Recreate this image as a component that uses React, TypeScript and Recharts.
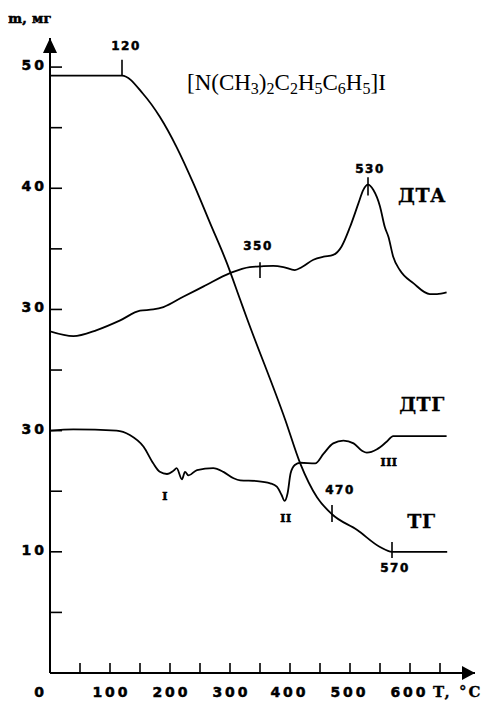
import React from 'react';
import { LineChart, Line, XAxis, YAxis, ReferenceDot, ReferenceLine } from 'recharts';

// ТГ (mass loss) curve
const tgT = [0, 120, 155, 183, 211, 239, 267, 295, 317, 328, 392, 417, 445, 470, 512, 550, 570, 662];
const tgM = [49.3, 49.3, 47.8, 45.9, 43.4, 40.4, 37.1, 33.8, 30.8, 29.3, 20.9, 17.3, 14.5, 13.1, 11.8, 10.4, 10.0, 10.0];

// ДТА curve
const dtaT = [0, 39, 78, 117, 150, 172, 189, 222, 256, 300, 333, 350, 372, 389, 408, 420, 439, 456, 472, 486, 500, 514, 522, 530, 539, 550, 558, 564, 572, 583, 606, 633, 645, 661];
const dtaV = [28.2, 27.8, 28.3, 29.1, 29.9, 30.0, 30.2, 31.05, 31.9, 33.0, 33.5, 33.55, 33.6, 33.5, 33.25, 33.5, 34.1, 34.35, 34.5, 35.2, 36.8, 38.75, 39.85, 40.3, 39.85, 38.5, 36.8, 36.0, 34.35, 33.25, 32.15, 31.27, 31.27, 31.4];

// ДТГ curve
const dtgT = [0, 39, 111, 133, 156, 172, 183, 195, 206, 211, 220, 225, 231, 245, 272, 289, 306, 317, 345, 367, 378, 386, 391, 396, 401, 408, 417, 442, 456, 472, 489, 506, 520, 528, 545, 561, 572, 661];
const dtgV = [20.0, 20.1, 20.0, 19.64, 18.67, 17.3, 16.6, 16.42, 16.7, 16.9, 15.98, 16.6, 16.3, 16.75, 16.9, 16.6, 16.07, 15.9, 15.84, 15.65, 15.37, 14.69, 14.2, 14.83, 16.48, 17.16, 17.35, 17.3, 18.1, 18.95, 19.17, 18.95, 18.34, 18.18, 18.46, 19.08, 19.55, 19.55];

// axis ticks
const xTicks = [0, 50, 100, 150, 200, 250, 300, 350, 400, 450, 500, 550, 600, 650];
const xTickLabels = ['0', '100', '200', '300', '400', '500', '600'];
const yTicks = [5, 10, 15, 20, 25, 30, 35, 40, 45, 50];
const yLabelValues = [10, 20, 30, 40, 50];
const yLabelTexts = ['10', '30', '30', '40', '50'];

// temperature markers
const markT = [120, 350, 530, 470, 570];
const markLo = [49.3, 32.6, 39.4, 12.46, 9.5];
const markHi = [50.6, 33.9, 40.9, 13.86, 10.8];
const markLabelT = [126.7, 346.7, 533.3, 483.3, 575];
const markLabelV = [51.4, 34.9, 41.25, 14.77, 8.33];

// curve names & stages
const curveNames = ['ДТА', 'ДТГ', 'ТГ'];
const curveNameT = [620, 620, 619];
const curveNameV = [38.86, 21.6, 11.96];
const stageNames = ['I', 'II', 'III'];
const stageT = [191.7, 393.3, 565];
const stageV = [14.27, 12.46, 17.08];

const formulaParts: [string, string][] = [['[N(CH', '3'], [')', '2'], ['C', '2'], ['H', '5'], ['C', '6'], ['H', '5'], [']I', '']];

const zip = (xs: number[], ys: number[]) => xs.map((T, i) => ({ T, v: ys[i] }));
const tgData = zip(tgT, tgM);
const dtaData = zip(dtaT, dtaV);
const dtgData = zip(dtgT, dtgV);

const NUM_FONT = '"DejaVu Sans", sans-serif';
const SERIF_FONT = '"DejaVu Serif", serif';

const XTick = (props: any) => {
  const { x, y, payload } = props;
  const v = payload.value;
  const idx = xTickLabels.indexOf(String(v));
  return (
    <g>
      {v > 0 && <line x1={x} x2={x} y1={y - 10} y2={y} stroke="#000" strokeWidth={1.6} />}
      {idx >= 0 && (
        <text x={x + (v === 0 ? -11 : v >= 400 ? -2 : 0) + 1.5} y={y + 24} textAnchor="middle" fontFamily={NUM_FONT} fontWeight="bold" fontSize={14} letterSpacing={3} fill="#000" stroke="#000" strokeWidth={0.5}>
          {xTickLabels[idx]}
        </text>
      )}
      {v === 650 && (
        <text x={x - 7} y={y + 24} textAnchor="start" fontFamily={SERIF_FONT} fontWeight="bold" fontSize={15} letterSpacing={2} fill="#000" stroke="#000" strokeWidth={0.3}>
          T, °C
        </text>
      )}
    </g>
  );
};

const YTick = (props: any) => {
  const { x, y, payload } = props;
  const idx = yLabelValues.indexOf(payload.value);
  return (
    <g>
      <line x1={x} x2={x + 12} y1={y} y2={y} stroke="#000" strokeWidth={1.6} />
      {idx >= 0 && (
        <text x={x - 3} y={y + 3} textAnchor="end" fontFamily={NUM_FONT} fontWeight="bold" fontSize={14} letterSpacing={3} fill="#000" stroke="#000" strokeWidth={0.5}>
          {yLabelTexts[idx]}
        </text>
      )}
    </g>
  );
};

const textShape = (label: string, font: string, size: number, spacing: number, sw: number = 0) => (p: any) => (
  <text x={p.cx} y={p.cy} textAnchor="middle" fontFamily={font} fontWeight="bold" fontSize={size} letterSpacing={spacing} fill="#000" stroke={sw > 0 ? '#000' : 'none'} strokeWidth={sw}>
    {label}
  </text>
);

const formulaShape = (p: any) => (
  <text x={p.cx} y={p.cy} textAnchor="start" fontFamily='"Liberation Serif", serif' fontSize={23} fill="#000">
    {formulaParts.map(([main, sub], i) => (
      <React.Fragment key={i}>
        <tspan dy={i === 0 ? 0 : -4} fontSize={23}>{main}</tspan>
        {sub && <tspan dy={4} fontSize={16}>{sub}</tspan>}
      </React.Fragment>
    ))}
  </text>
);

const yArrow = (p: any) => (
  <polygon points={`${p.cx},${p.cy} ${p.cx - 7},${p.cy + 15} ${p.cx + 7},${p.cy + 15}`} fill="#000" />
);
const xArrow = (p: any) => (
  <polygon points={`${p.cx},${p.cy} ${p.cx - 13},${p.cy - 7} ${p.cx - 13},${p.cy + 7}`} fill="#000" />
);

export default function App() {
  return (
    <div style={{ position: 'absolute', left: 0, top: 0, width: 490, height: 704, background: '#fff' }}>
      <LineChart width={490} height={704} margin={{ top: 38, right: 15, bottom: 0, left: 0 }}>
        <XAxis
          type="number"
          dataKey="T"
          domain={[0, 708.33]}
          allowDataOverflow
          ticks={xTicks}
          interval={0}
          tick={<XTick />}
          tickLine={false}
          tickSize={0}
          tickMargin={0}
          height={31}
          axisLine={{ stroke: '#000', strokeWidth: 2 }}
        />
        <YAxis
          type="number"
          domain={[0, 52.4]}
          allowDataOverflow
          ticks={yTicks}
          interval={0}
          tick={<YTick />}
          tickLine={false}
          tickSize={0}
          tickMargin={0}
          width={50}
          axisLine={{ stroke: '#000', strokeWidth: 2 }}
        />
        <Line data={tgData} dataKey="v" type="monotone" stroke="#000" strokeWidth={1.8} dot={false} isAnimationActive={false} />
        <Line data={dtaData} dataKey="v" type="monotone" stroke="#000" strokeWidth={1.8} dot={false} isAnimationActive={false} />
        <Line data={dtgData} dataKey="v" type="monotone" stroke="#000" strokeWidth={1.8} dot={false} isAnimationActive={false} />

        {markT.map((t, i) => (
          <ReferenceLine key={`m${i}`} segment={[{ x: t, y: markLo[i] }, { x: t, y: markHi[i] }]} stroke="#000" strokeWidth={1.6} ifOverflow="visible" />
        ))}
        {markT.map((t, i) => (
          <ReferenceDot key={`ml${i}`} x={markLabelT[i]} y={markLabelV[i]} ifOverflow="visible" shape={textShape(String(t), NUM_FONT, 12, 1.5, 0.5)} />
        ))}
        {curveNames.map((n, i) => (
          <ReferenceDot key={`c${i}`} x={curveNameT[i]} y={curveNameV[i]} ifOverflow="visible" shape={textShape(n, SERIF_FONT, 19, 0.5, 0.3)} />
        ))}
        {stageNames.map((n, i) => (
          <ReferenceDot key={`s${i}`} x={stageT[i]} y={stageV[i]} ifOverflow="visible" shape={textShape(n, SERIF_FONT, 11, 0.5, 0.6)} />
        ))}
        <ReferenceDot x={228.3} y={48.1} ifOverflow="visible" shape={formulaShape} />
        <ReferenceDot x={-33.3} y={53.6} ifOverflow="visible" shape={textShape('m, мг', SERIF_FONT, 13, 0.3, 0.6)} />
        <ReferenceDot x={0} y={52.4} ifOverflow="visible" shape={yArrow} />
        <ReferenceDot x={708.33} y={0} ifOverflow="visible" shape={xArrow} />
      </LineChart>
    </div>
  );
}
